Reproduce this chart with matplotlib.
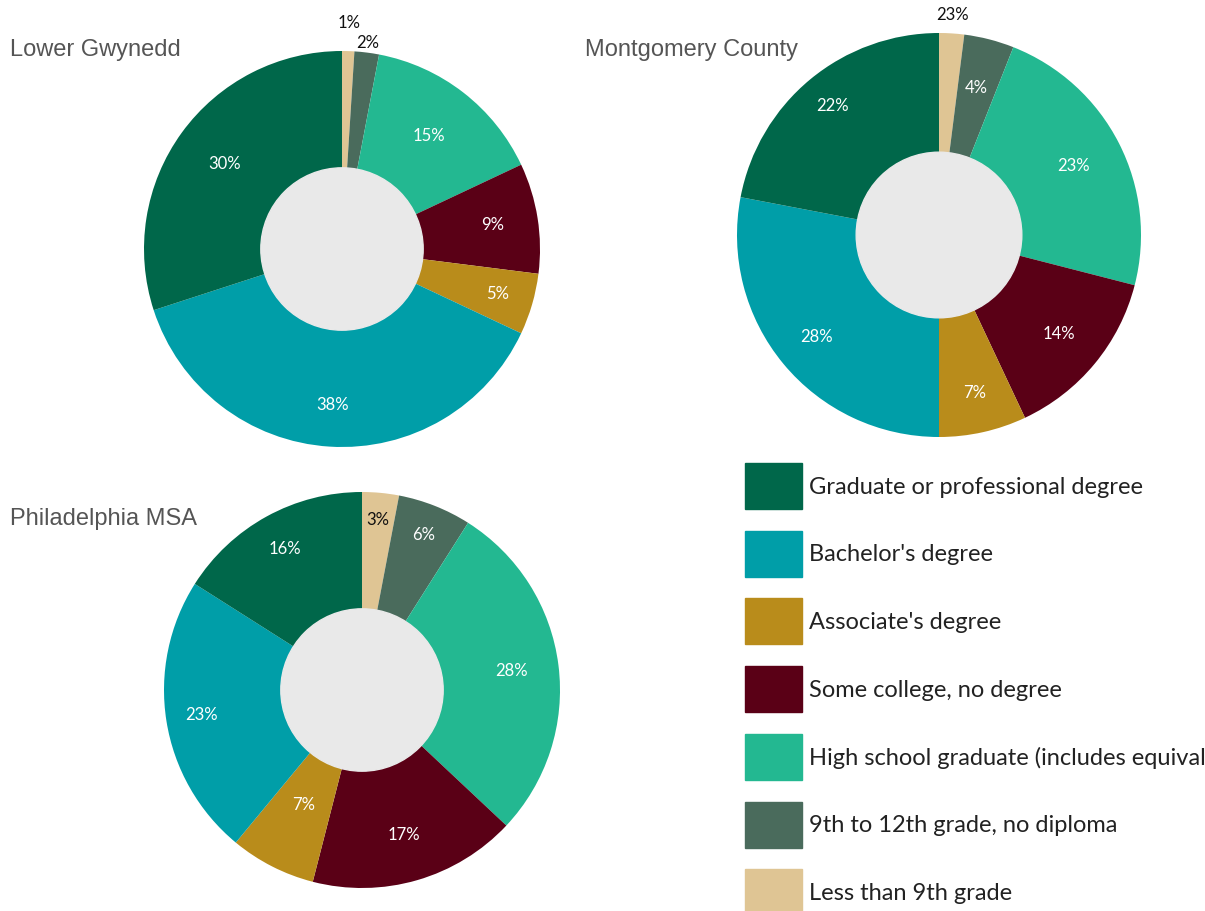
import matplotlib
matplotlib.use("Agg")
import matplotlib.pyplot as plt
from matplotlib.patches import Circle, Rectangle
import numpy as np

# categories, in clockwise order starting at 12 o'clock
categories = ["Less than 9th grade", "9th to 12th grade, no diploma",
              "High school graduate (includes equivalency)", "Some college, no degree",
              "Associate's degree", "Bachelor's degree", "Graduate or professional degree"]
colors = ["#dfc594", "#4a6b5c", "#23b891", "#5a0016", "#b98c1b", "#009ea8", "#00674a"]

lower_gwynedd = [1, 2, 15, 9, 5, 38, 30]
montgomery = [2, 4, 23, 14, 7, 28, 22]
philadelphia = [3, 6, 28, 17, 7, 23, 16]

lg_labels = ["1%", "2%", "15%", "9%", "5%", "38%", "30%"]
mc_labels = ["23%", "4%", "23%", "14%", "7%", "28%", "22%"]
ph_labels = ["3%", "6%", "28%", "17%", "7%", "23%", "16%"]

# legend order (top to bottom)
legend_order = [6, 5, 4, 3, 2, 1, 0]

W, H = 1205, 911
fig = plt.figure(figsize=(W / 100, H / 100), dpi=100)
FONT = "Lato"


def donut(cx, cy, R, values, labels, label_r, label_col, title, tx, ty):
    ax = fig.add_axes([(cx - R) / W, (H - cy - R) / H, 2 * R / W, 2 * R / H])
    wedges, _ = ax.pie(values, colors=colors, startangle=90, counterclock=False,
                       radius=1, wedgeprops=dict(linewidth=0))
    ax.add_patch(Circle((0, 0), 0.41, color="#e9e9e9", zorder=5))
    ax.set_xlim(-1, 1); ax.set_ylim(-1, 1); ax.set_aspect("equal")
    ax.axis("off")
    for w, lab, r, c in zip(wedges, labels, label_r, label_col):
        ang = np.deg2rad((w.theta1 + w.theta2) / 2)
        ax.text(r * np.cos(ang), r * np.sin(ang), lab, ha="center", va="center",
                color=c, fontsize=12, family=FONT, zorder=6)
    fig.text(tx / W, 1 - ty / H, title, ha="left", va="baseline",
             fontsize=17, color="#555555", family="Liberation Sans")


k, wht = "#111111", "white"
donut(342, 249, 198, lower_gwynedd, lg_labels,
      [1.14, 1.05, 0.72, 0.77, 0.82, 0.79, 0.73],
      [k, k, wht, wht, wht, wht, wht], "Lower Gwynedd", 10, 56)
donut(939, 235, 202, montgomery, mc_labels,
      [1.09, 0.75, 0.75, 0.77, 0.80, 0.79, 0.83],
      [k, wht, wht, wht, wht, wht, wht], "Montgomery County", 585, 56)
donut(362, 690, 198, philadelphia, ph_labels,
      [0.86, 0.84, 0.76, 0.76, 0.65, 0.82, 0.81],
      [k, wht, wht, wht, wht, wht, wht], "Philadelphia MSA", 10, 525)

# legend
for i, idx in enumerate(legend_order):
    top = 463 + i * 67.7
    fig.patches.append(Rectangle((745 / W, 1 - (top + 46) / H), 57 / W, 46 / H,
                                 transform=fig.transFigure, color=colors[idx]))
    fig.text(809 / W, 1 - (top + 24) / H, categories[idx], ha="left", va="center",
             fontsize=17, color="#222222", family=FONT)

fig.savefig("out.png", dpi=100)
